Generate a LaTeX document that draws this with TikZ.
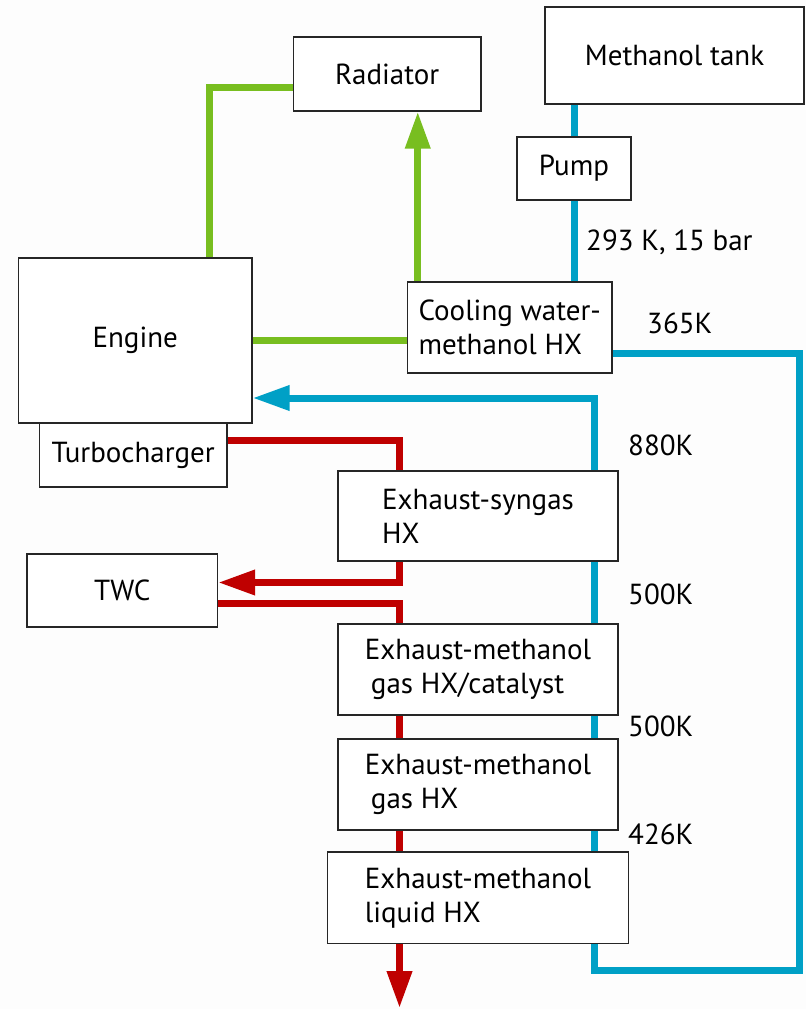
\documentclass[tikz,border=0pt]{standalone}
\usepackage{fontspec}
\setmainfont{PT Sans}
\usetikzlibrary{arrows.meta,calc}
\pgfdeclarelayer{bg}
\pgfsetlayers{bg,main}
\definecolor{cgreen}{HTML}{78BE20}
\definecolor{cblue}{HTML}{00A0C6}
\definecolor{cred}{HTML}{BF0000}
\definecolor{bgc}{HTML}{FDFDFD}
\tikzset{
  box/.style={draw=black!85, line width=1.4pt, fill=white, inner sep=0pt, align=left,
    font=\fontsize{29pt}{34pt}\selectfont},
  pipe/.style={line width=7pt, line join=miter},
  tip/.style={-{Triangle[length=37pt,width=24pt]}},
  lbl/.style={anchor=base west, inner sep=0pt, font=\fontsize{29pt}{34pt}\selectfont}
}
\begin{document}
\begin{tikzpicture}[x=1pt,y=-1pt]
\useasboundingbox (0,0) rectangle (806,1009);
% boxes
\node[box, minimum width=259pt, minimum height=97pt] (tank) at (674.5,55.5) {Methanol tank};
\node[box, minimum width=187.5pt, minimum height=74pt] (rad) at (387.25,74) {Radiator};
\node[box, minimum width=114pt, minimum height=63pt] (pump) at (574,168.5) {Pump};
\node[box, minimum width=233.5pt, minimum height=165pt] (engine) at (135.25,340.5) {Engine};
\node[box, minimum width=204.5pt, minimum height=91pt] (cool) at (509.75,327.5) {Cooling water-\\methanol HX};
\node[box, minimum width=187.5pt, minimum height=64pt] (turbo) at (133.25,455) {Turbocharger};
\node[box, minimum width=280pt, minimum height=90pt] (syn) at (478,516) {Exhaust-syngas\\HX};
\node[box, minimum width=190.5pt, minimum height=73pt] (twc) at (122.25,590.5) {TWC};
\node[box, minimum width=280pt, minimum height=91pt] (cat) at (478,669.5) {Exhaust-methanol\\\hspace{6pt}gas HX/catalyst};
\node[box, minimum width=280pt, minimum height=91pt] (gas) at (478,784.5) {Exhaust-methanol\\\hspace{6pt}gas HX};
\node[box, minimum width=301pt, minimum height=91.5pt] (liq) at (478,897.75) {Exhaust-methanol\\liquid HX};
% labels
\node[lbl] (l293) at (586,250.7) {293 K, 15 bar};
\node[lbl] (l365) at (647,333) {365K};
\node[lbl] (l880) at (628,455) {880K};
\node[lbl] (l500a) at (628,604) {500K};
\node[lbl] (l500b) at (628,736.5) {500K};
\node[lbl] (l426) at (628,844) {426K};
% helper coordinates
\coordinate (gA) at ([xshift=74pt]engine.north);
\coordinate (gB) at ([yshift=-13pt]rad.west);
\coordinate (gC) at ([xshift=-92pt]cool.north);
\coordinate (bA) at ([yshift=-25.5pt]cool.east);
\coordinate (bR) at (799.5,970);
\coordinate (bc) at (594,0);
\coordinate (eA) at ([yshift=-57.5pt]engine.east);
\coordinate (rc) at (399.5,0);
\coordinate (tA) at ([yshift=15pt]turbo.east);
\coordinate (wA) at ([yshift=8pt]twc.east);
\coordinate (wB) at ([yshift=-13pt]twc.east);
\coordinate (out) at (399.5,1008);
\begin{pgfonlayer}{bg}
\fill[bgc] (0,0) rectangle (806,1009);
% green
\draw[pipe,cgreen] (gA) |- (gB);
\draw[pipe,cgreen,tip] (gC) -- (gC |- rad.south);
\draw[pipe,cgreen] (engine.east) -- (engine.east -| cool.west);
% blue
\draw[pipe,cblue] (pump.north |- tank.south) -- (pump.north);
\draw[pipe,cblue] (pump.south) -- (pump.south |- cool.north);
\draw[pipe,cblue] (bA) -| (bR) -| (bc |- liq.south);
\draw[pipe,cblue] (bc |- liq.north) -- (bc |- gas.south);
\draw[pipe,cblue] (bc |- gas.north) -- (bc |- cat.south);
\draw[pipe,cblue] (bc |- cat.north) -- (bc |- syn.south);
\draw[pipe,cblue,tip] (bc |- syn.north) |- (eA);
% red
\draw[pipe,cred] (tA) -| (rc |- syn.north);
\draw[pipe,cred,tip] (rc |- syn.south) |- (wA);
\draw[pipe,cred] (wB) -| (rc |- cat.north);
\draw[pipe,cred] (rc |- cat.south) -- (rc |- gas.north);
\draw[pipe,cred] (rc |- gas.south) -- (rc |- liq.north);
\draw[pipe,cred,tip] (rc |- liq.south) -- (out);
\end{pgfonlayer}
\end{tikzpicture}
\end{document}
